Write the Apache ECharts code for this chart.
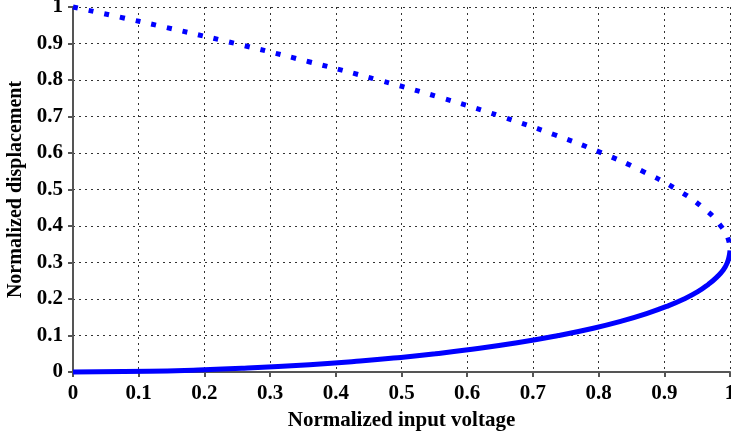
<!DOCTYPE html>
<html>
<head>
<meta charset="utf-8">
<script src="https://cdn.jsdelivr.net/npm/echarts@6/dist/echarts.min.js"></script>
<style>
  html, body { margin: 0; padding: 0; background: #fff; }
  #chart { width: 731px; height: 436px; }
</style>
</head>
<body>
<div id="chart"></div>
<script>
// Stable branch: normalized input voltage vs normalized displacement
const stableVoltage = [0, 0.116, 0.183, 0.257, 0.360, 0.437, 0.499, 0.552, 0.598, 0.676, 0.739, 0.792, 0.836, 0.873, 0.904, 0.930, 0.951, 0.967, 0.980, 0.990, 0.996, 0.999, 1.0];
const stableDisp    = [0, 0.002, 0.005, 0.01, 0.02, 0.03, 0.04, 0.05, 0.06, 0.08, 0.10, 0.12, 0.14, 0.16, 0.18, 0.20, 0.22, 0.24, 0.26, 0.28, 0.30, 0.32, 0.333];

// Unstable branch
const unstableVoltage = [0, 0.077, 0.127, 0.247, 0.359, 0.465, 0.563, 0.652, 0.733, 0.805, 0.867, 0.919, 0.959, 0.986, 0.998, 1.0];
const unstableDisp    = [1.0, 0.97, 0.95, 0.90, 0.85, 0.80, 0.75, 0.70, 0.65, 0.60, 0.55, 0.50, 0.45, 0.40, 0.36, 0.333];

const tickValues = [0, 0.1, 0.2, 0.3, 0.4, 0.5, 0.6, 0.7, 0.8, 0.9, 1];

const pairs = (xs, ys) => xs.map((x, i) => [x, ys[i]]);

const font = 'Liberation Serif';
const labelStyle = {
  fontFamily: font, fontWeight: 'bold', fontSize: 21, color: '#000',
  formatter: v => String(tickValues.find(t => Math.abs(t - v) < 1e-9) ?? v)
};
const axisCommon = {
  type: 'value', min: 0, max: 1, interval: 0.1,
  axisLine: { show: true, lineStyle: { color: '#555', width: 2 } },
  axisTick: { show: true, length: 5, lineStyle: { color: '#555', width: 2 } },
  splitLine: { show: true, lineStyle: { color: '#333', width: 1, type: [2, 4] } },
  nameLocation: 'middle'
};

const chart = echarts.init(document.getElementById('chart'), null, { renderer: 'canvas' });
chart.setOption({
  animation: false,
  grid: { left: 73, right: 1, top: 7, bottom: 64, containLabel: false, outerBoundsMode: 'none' },
  xAxis: Object.assign({}, axisCommon, {
    name: 'Normalized input voltage', nameGap: 38,
    nameTextStyle: { fontFamily: font, fontWeight: 'bold', fontSize: 21, color: '#000' },
    axisLabel: Object.assign({}, labelStyle, { margin: 11 })
  }),
  yAxis: Object.assign({}, axisCommon, {
    name: 'Normalized displacement', nameGap: 43,
    nameTextStyle: { fontFamily: font, fontWeight: 'bold', fontSize: 20, color: '#000' },
    axisLabel: Object.assign({}, labelStyle, { margin: 10 })
  }),
  series: [
    {
      type: 'line', data: pairs(stableVoltage, stableDisp),
      showSymbol: false, smooth: true, clip: false,
      lineStyle: { color: '#0000ff', width: 5 }
    },
    {
      type: 'line', data: pairs(unstableVoltage, unstableDisp),
      showSymbol: false, smooth: true, clip: false,
      lineStyle: { color: '#0000ff', width: 5, type: [5, 11], cap: 'butt' }
    }
  ]
});
</script>
</body>
</html>
